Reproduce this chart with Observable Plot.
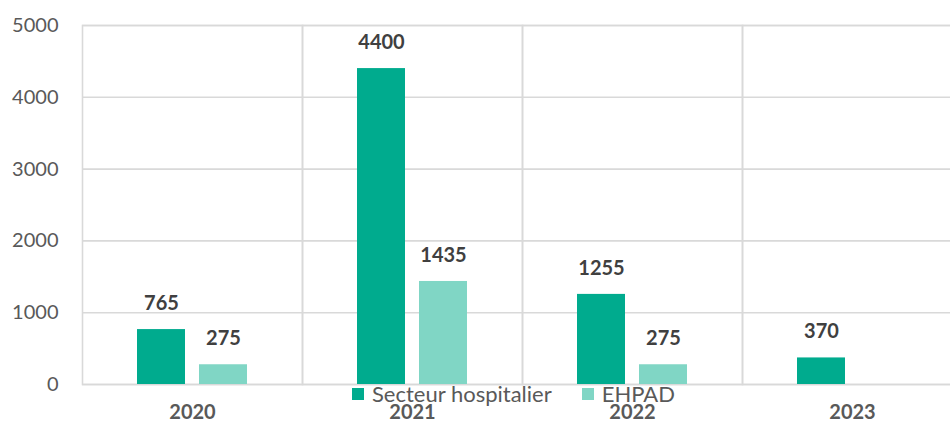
<!DOCTYPE html>
<html><head><meta charset="utf-8">
<script src="https://cdn.jsdelivr.net/npm/d3@7"></script>
<script src="https://cdn.jsdelivr.net/npm/@observablehq/plot@0.6"></script>
<style>
body{margin:0;background:#fff;font-family:Lato,"Open Sans",sans-serif}
#wrap{position:relative;width:950px;height:421px;overflow:hidden}
#legend{position:absolute;left:352px;top:382px;display:flex;align-items:center;font-size:22px;color:#595959;line-height:24px}
#legend .item{display:flex;align-items:center;margin-right:30px}
#legend .sw{width:12px;height:12px;margin-right:8px}
</style></head><body>
<div id="wrap"><div id="chart"></div><div id="legend"></div></div>
<script>
const years = ["2020", "2021", "2022", "2023"];
const series = ["Secteur hospitalier", "EHPAD"];
const hospitalier = [765, 4400, 1255, 370];
const ehpad = [275, 1435, 275, null];
const yTicks = [0, 1000, 2000, 3000, 4000, 5000];
const colors = ["#00AB8E", "#80D6C5"];

const data = [];
years.forEach((yr, i) => {
  if (hospitalier[i] != null) data.push({year: yr, series: series[0], value: hospitalier[i]});
  if (ehpad[i] != null) data.push({year: yr, series: series[1], value: ehpad[i]});
});

const chart = Plot.plot({
  width: 950, height: 421,
  marginLeft: 81, marginRight: -13, marginTop: 25, marginBottom: 37,
  style: {fontFamily: "Lato, 'Open Sans', sans-serif", fontSize: "20px", color: "#595959", background: "#fff"},
  fx: {domain: years, padding: 0, label: null},
  x: {domain: series, paddingInner: 0.222, paddingOuter: 0.861, axis: null},
  y: {domain: [0, 5000], label: null},
  color: {domain: series, range: colors},
  marks: [
    Plot.ruleY(yTicks, {stroke: "#d9d9d9", strokeWidth: 1.6}),
    Plot.frame({stroke: "#d9d9d9", strokeWidth: 1.6}),
    Plot.barY(data, {fx: "year", x: "series", y: "value", fill: "series"}),
    Plot.text(data, {fx: "year", x: "series", y: "value", text: d => String(d.value), dy: -26, fontWeight: "bold", fill: "#404040", fontSize: 20}),
    Plot.axisY({ticks: yTicks, tickFormat: d => String(d), tickSize: 0, tickPadding: 24, label: null, fill: "#595959"}),
    Plot.axisFx({anchor: "bottom", tickSize: 0, tickPadding: 20, label: null, fontWeight: "bold", fill: "#595959"})
  ]
});
document.getElementById("chart").appendChild(chart);

const legend = document.getElementById("legend");
series.forEach((s, i) => {
  const item = document.createElement("div");
  item.className = "item";
  const sw = document.createElement("span");
  sw.className = "sw"; sw.style.background = colors[i];
  const t = document.createElement("span");
  t.textContent = s;
  item.appendChild(sw); item.appendChild(t);
  legend.appendChild(item);
});
</script></body></html>
